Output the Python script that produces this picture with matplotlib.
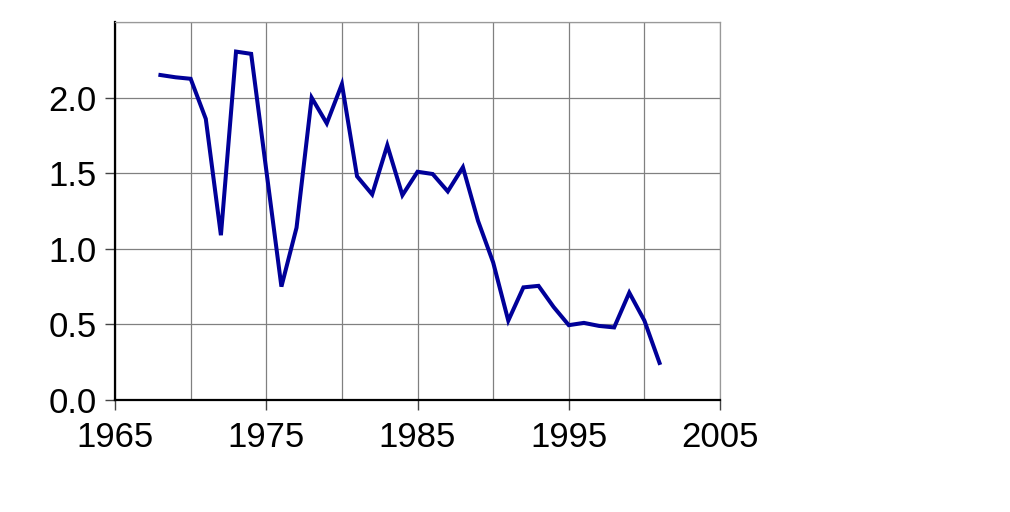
import matplotlib
matplotlib.use("Agg")
import matplotlib.pyplot as plt

years = list(range(1968, 2002))
values = [
    2.15, 2.135, 2.125, 1.86, 1.09, 2.305, 2.29, 1.52, 0.75, 1.14,
    2.0, 1.83, 2.09, 1.48, 1.36, 1.685, 1.355, 1.51, 1.495, 1.38,
    1.54, 1.185, 0.91, 0.525, 0.745, 0.755, 0.615, 0.495, 0.51, 0.49,
    0.48, 0.71, 0.525, 0.245,
]
x_major = [1965, 1975, 1985, 1995, 2005]
x_minor = [1970, 1980, 1990, 2000]
y_ticks = [0.0, 0.5, 1.0, 1.5, 2.0]
y_labels = ["0.0", "0.5", "1.0", "1.5", "2.0"]

plt.rcParams["font.family"] = ["Liberation Sans", "DejaVu Sans"]

fig = plt.figure(figsize=(10.1, 5.12), dpi=100)
ax = fig.add_axes([0.1139, 0.2188, 0.599, 0.738])

ax.plot(years, values, color="#000099", linewidth=2.9, solid_joinstyle="miter")

ax.set_xlim(1965, 2005)
ax.set_ylim(0, 2.5)
ax.set_xticks(x_major)
ax.set_xticks(x_minor, minor=True)
ax.set_yticks(y_ticks)
ax.set_yticklabels(y_labels)
ax.set_yticks([2.5], minor=True)

ax.grid(True, which="both", color="#808080", linewidth=0.9)
ax.set_axisbelow(True)

ax.tick_params(axis="both", which="major", labelsize=25, length=7, width=1,
               color="#444444")
ax.tick_params(axis="x", which="major", pad=8)
ax.tick_params(axis="y", which="major", pad=6)
ax.tick_params(axis="both", which="minor", length=0)

for side in ("left", "bottom"):
    ax.spines[side].set_color("black")
    ax.spines[side].set_linewidth(1.6)
for side in ("top", "right"):
    ax.spines[side].set_color("#999999")
    ax.spines[side].set_linewidth(0.9)

fig.savefig("out.png", dpi=100)
